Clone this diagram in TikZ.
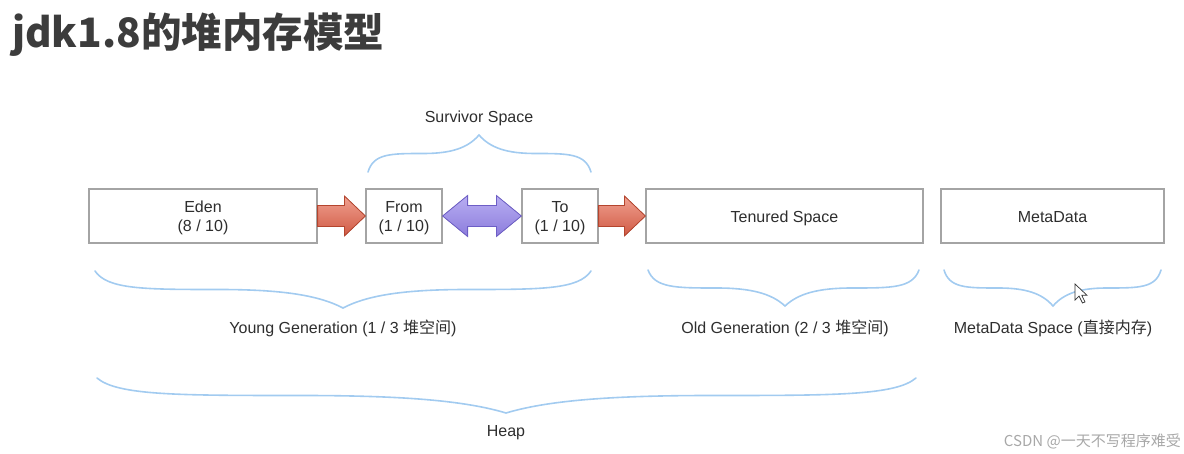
\documentclass[tikz,border=0pt]{standalone}
\usepackage{fontspec}
\setmainfont{Liberation Sans}
\newfontfamily\cjk{Noto Sans CJK SC}
\usetikzlibrary{calc}
\definecolor{boxline}{HTML}{A4A4A4}
\definecolor{txt}{HTML}{2E2E2E}
\definecolor{bracec}{HTML}{A2CBF0}
\definecolor{redtop}{HTML}{F0A090}
\definecolor{redbot}{HTML}{D05A44}
\definecolor{redline}{HTML}{B4452E}
\definecolor{purtop}{HTML}{B8AEF2}
\definecolor{purbot}{HTML}{8C7CDC}
\definecolor{purline}{HTML}{6D5EC6}
\definecolor{titlec}{HTML}{3C3C3C}
\definecolor{wmark}{HTML}{A8A8A8}
\newcommand\boxtext[1]{\raisebox{-2.5pt}[\height][\depth]{\begin{tabular}{@{}c@{}}#1\end{tabular}}}
\newcommand\curlybrace[5]{%
  \pgfmathsetmacro\brYf{#4+0.5*(#5-#4)}%
  \pgfmathsetmacro\brLa{#3-#1}%
  \pgfmathsetmacro\brLb{#2-#3}%
  \pgfmathsetmacro\brYm{\brYf+0.3*(#5-\brYf)}%
  \draw[bracestyle] (#1,#4) .. controls (#1+0.05*\brLa,\brYf) and (#1+0.2*\brLa,\brYf) .. (#1+0.5*\brLa,\brYf)
    .. controls (#3-0.25*\brLa,\brYf) and (#3-0.1*\brLa,\brYm) .. (#3,#5)
    .. controls (#3+0.1*\brLb,\brYm) and (#3+0.25*\brLb,\brYf) .. (#2-0.5*\brLb,\brYf)
    .. controls (#2-0.2*\brLb,\brYf) and (#2-0.05*\brLb,\brYf) .. (#2,#4);
}
\tikzset{
  membox/.style={draw=boxline, line width=1.2pt, fill=white, minimum height=54pt, inner sep=0pt, text=txt, font=\fontsize{16}{19}\selectfont},
  lbl/.style={text=txt, font=\fontsize{16}{19}\selectfont, inner sep=0pt},
  bracestyle/.style={draw=bracec, line width=1.6pt, line cap=round},
  redarrow/.style={draw=redline, line width=0.8pt, top color=redtop, bottom color=redbot, line join=miter},
  purarrow/.style={draw=purline, line width=0.8pt, top color=purtop, bottom color=purbot, line join=miter},
}
\begin{document}
\begin{tikzpicture}[x=1pt, y=-1pt]
\useasboundingbox (0,0) rectangle (1184,454);
% title
\node[anchor=base west, inner sep=0pt, text=titlec, font=\cjk\bfseries\fontsize{40.5}{42}\selectfont] (title) at (12,48) {jdk1.8的堆内存模型};
% boxes
\node[membox, minimum width=228pt] (eden) at (203,216) {\boxtext{Eden\\(8 / 10)}};
\node[membox, minimum width=76pt] (from) at (404,216) {\boxtext{From\\(1 / 10)}};
\node[membox, minimum width=76pt] (to) at (560,216) {\boxtext{To\\(1 / 10)}};
\node[membox, minimum width=277pt] (tenured) at (784.5,216) {\boxtext{Tenured Space}};
\node[membox, minimum width=223pt] (meta) at (1052.5,216) {\boxtext{MetaData}};
% red arrow eden -> from
\filldraw[redarrow] ($(eden.east)+(0,-10.5)$) -- ($(from.west)+(-21,-10.5)$) -- ($(from.west)+(-21,-20)$) -- (from.west)
  -- ($(from.west)+(-21,20)$) -- ($(from.west)+(-21,10.5)$) -- ($(eden.east)+(0,10.5)$) -- cycle;
% red arrow to -> tenured
\filldraw[redarrow] ($(to.east)+(0,-10.5)$) -- ($(tenured.west)+(-21,-10.5)$) -- ($(tenured.west)+(-21,-20)$) -- (tenured.west)
  -- ($(tenured.west)+(-21,20)$) -- ($(tenured.west)+(-21,10.5)$) -- ($(to.east)+(0,10.5)$) -- cycle;
% purple double arrow from <-> to
\filldraw[purarrow] (from.east) -- ($(from.east)+(25,-20.5)$) -- ($(from.east)+(25,-10.5)$) -- ($(to.west)+(-25,-10.5)$)
  -- ($(to.west)+(-25,-20.5)$) -- (to.west) -- ($(to.west)+(-25,20.5)$) -- ($(to.west)+(-25,10.5)$)
  -- ($(from.east)+(25,10.5)$) -- ($(from.east)+(25,20.5)$) -- cycle;
% braces
\curlybrace{368}{591}{479}{172}{135}
\curlybrace{95}{591}{343}{271}{308}
\curlybrace{648}{919}{785}{270}{306}
\curlybrace{944}{1161}{1053}{270}{306}
\curlybrace{97}{916}{506}{378}{413}
% labels
\node[lbl] (survlbl) at (479,118) {Survivor Space};
\node[lbl] (younglbl) at (343,328) {Young Generation (1 / 3 {\cjk 堆空间})};
\node[lbl] (oldlbl) at (785,328) {Old Generation (2 / 3 {\cjk 堆空间})};
\node[lbl] (metalbl) at (1053,328) {MetaData Space ({\cjk 直接内存})};
\node[lbl] (heaplbl) at (506,433) {Heap};
% mouse cursor
\filldraw[fill=white, draw=black!80, line width=0.7pt, line join=miter]
  (1075,284) -- (1075,300) -- (1079,296) -- (1082.5,303) -- (1085,302) -- (1081.8,295.3) -- (1087,295.3) -- cycle;
% watermark
\node[anchor=east, inner sep=0pt, text=wmark, font=\cjk\fontsize{15}{17}\selectfont] (wm) at (1181,441) {CSDN @一天不写程序难受};
\end{tikzpicture}
\end{document}
